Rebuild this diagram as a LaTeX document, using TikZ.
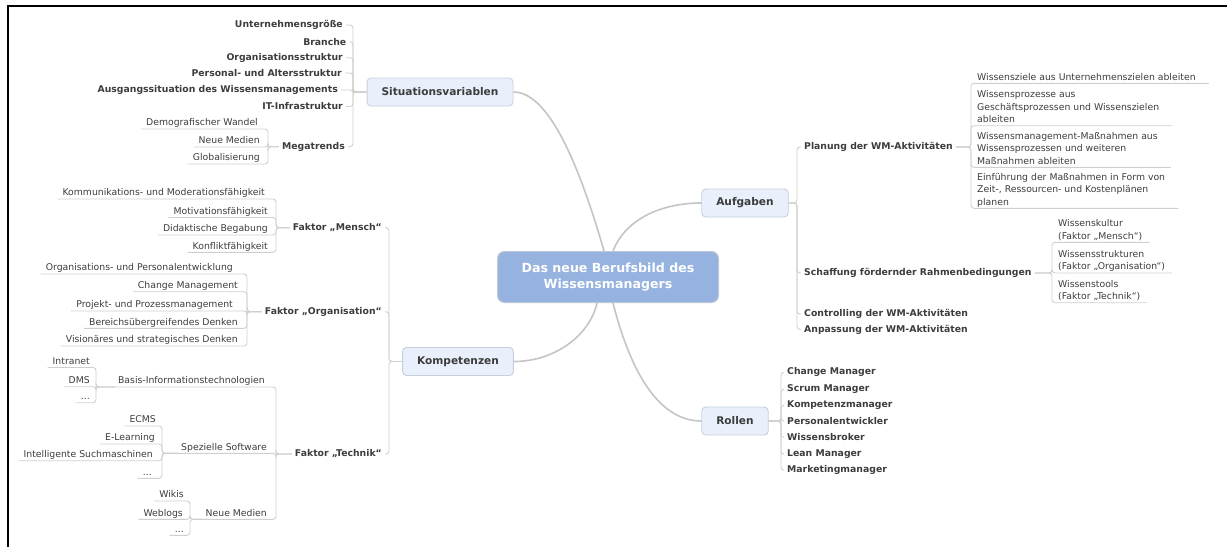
\documentclass[tikz,border=0pt]{standalone}
\usepackage{fontspec}
\setmainfont{DejaVu Sans}
\usetikzlibrary{calc}
\definecolor{txt}{HTML}{3C3C3C}
\definecolor{topicfill}{HTML}{E9F0FB}
\definecolor{topicdraw}{HTML}{C6CFDB}
\definecolor{rootfill}{HTML}{95B3DE}
\definecolor{rootdraw}{HTML}{BCC9DB}
\definecolor{maincurve}{HTML}{C4C4C4}
\definecolor{subline}{HTML}{CFCFCF}
\newcommand\lstr{\rule[-3pt]{0pt}{9pt}}
\begin{document}
\begin{tikzpicture}[x=1pt,y=-1pt,
 root/.style={draw=rootdraw, fill=rootfill, line width=1pt, rounded corners=7pt, text=white,
   font=\bfseries\fontsize{12.6}{16.7}\selectfont, align=center, minimum width=221pt, minimum height=51pt},
 topic/.style={draw=topicdraw, fill=topicfill, rounded corners=4pt, line width=0.9pt,
   font=\bfseries\fontsize{10.6}{13}\selectfont, text=txt, inner xsep=14.5pt, minimum height=28pt},
 sub/.style={font=\bfseries\fontsize{9.3}{12}\selectfont, text=txt, inner xsep=3pt, inner ysep=1pt},
 leaf/.style={font=\fontsize{9.3}{12.3}\selectfont, text=txt, inner xsep=3pt, inner ysep=0pt, align=left,
   execute at begin node=\lstr, execute at end node=\lstr},
 lleaf/.style={leaf, anchor=south east},
 rleaf/.style={leaf, anchor=south west},
 conn/.style={draw=subline, line width=0.9pt, rounded corners=3pt},
 main/.style={draw=maincurve, line width=1.6pt},
]
\useasboundingbox (0,0) rectangle (1227,547);
\draw[line width=2.5pt] (8,547) -- (8,6) -- (1227,6);

% vertical line positions
\coordinate (vS) at (353,0);
\coordinate (vMg) at (268,0);
\coordinate (vK) at (389,0);
\coordinate (vK1) at (276,0);
\coordinate (vK2) at (247,0);
\coordinate (vK3) at (276,0);
\coordinate (vB) at (96,0);
\coordinate (vSp) at (162,0);
\coordinate (vN) at (190,0);
\coordinate (vA) at (797,0);
\coordinate (vP) at (971,0);
\coordinate (vSc) at (1052,0);
\coordinate (vR) at (781,0);

% central and topics
\node[root] (root) at (608,277) {Das neue Berufsbild des\\Wissensmanagers};
\node[topic] (sit) at (440,92) {Situationsvariablen};
\node[topic] (komp) at (458,361.5) {Kompetenzen};
\node[topic] (aufg) at (745,203) {Aufgaben};
\node[topic] (rollen) at (735,421) {Rollen};

\draw[main] (sit.east) .. controls (545,92) and (575,150) .. ($(root.north)+(-4,0)$);
\draw[main] (aufg.west) .. controls (660,203) and (625,220) .. ($(root.north)+(5,0)$);
\draw[main] (komp.east) .. controls (555,361.5) and (590,335) .. ($(root.south)+(-11,0)$);
\draw[main] ($(root.south)+(5,0)$) .. controls (625,350) and (650,421) .. (rollen.west);

% Situationsvariablen
\node[sub, anchor=east] (s1) at (346,25) {Unternehmensgröße};
\node[sub, anchor=east] (s2) at (349.5,41.7) {Branche};
\node[sub, anchor=east] (s3) at (346,57.7) {Organisationsstruktur};
\node[sub, anchor=east] (s4) at (345,73) {Personal- und Altersstruktur};
\node[sub, anchor=east] (s5) at (341,90) {Ausgangssituation des Wissensmanagements};
\node[sub, anchor=east] (s6) at (346,106.5) {IT-Infrastruktur};
\node[sub, anchor=east] (s7) at (348,146.7) {Megatrends};
\foreach \c in {s1,s2,s3,s4,s5,s6,s7}
  \draw[conn] (sit.west) -- (sit.west -| vS) |- (\c.east);

\node[lleaf] (m1) at (261,129) {Demografischer Wandel};
\node[lleaf] (m2) at (263,147) {Neue Medien};
\node[lleaf] (m3) at (263,164) {Globalisierung};
\foreach \c in {m1,m2,m3}
  \draw[conn] (s7.west) -- (s7.west -| vMg) |- ($(\c.south west)+(-2,0)$);

% Kompetenzen
\node[sub, anchor=east] (k1) at (385,227.7) {Faktor „Mensch“};
\node[sub, anchor=east] (k2) at (385,311.7) {Faktor „Organisation“};
\node[sub, anchor=east] (k3) at (385,454) {Faktor „Technik“};
\foreach \c in {k1,k2,k3}
  \draw[conn] (komp.west) -- (komp.west -| vK) |- (\c.east);

\node[lleaf] (km1) at (268,199) {Kommunikations- und Moderationsfähigkeit};
\node[lleaf] (km2) at (271,217.5) {Motivationsfähigkeit};
\node[lleaf] (km3) at (271,235) {Didaktische Begabung};
\node[lleaf] (km4) at (271,252.3) {Konfliktfähigkeit};
\foreach \c in {km1,km2,km3,km4}
  \draw[conn] (k1.west) -- (k1.west -| vK1) |- ($(\c.south west)+(-2,0)$);

\node[lleaf] (ko1) at (236,274) {Organisations- und Personalentwicklung};
\node[lleaf] (ko2) at (241,291.7) {Change Management};
\node[lleaf] (ko3) at (236,311) {Projekt- und Prozessmanagement};
\node[lleaf] (ko4) at (241,328.3) {Bereichsübergreifendes Denken};
\node[lleaf] (ko5) at (241,346) {Visionäres und strategisches Denken};
\foreach \c in {ko1,ko2,ko3,ko4,ko5}
  \draw[conn] (k2.west) -- (k2.west -| vK2) |- ($(\c.south west)+(-2,0)$);

\node[lleaf] (kt1) at (268,387) {Basis-Informationstechnologien};
\node[lleaf] (kt2) at (270,453.3) {Spezielle Software};
\node[lleaf] (kt3) at (270,519.3) {Neue Medien};
\foreach \c in {kt1,kt2,kt3}
  \draw[conn] (k3.west) -- (k3.west -| vK3) |- (\c.south west);

\node[lleaf] (b1) at (93,367.5) {Intranet};
\node[lleaf] (b2) at (93,386.7) {DMS};
\node[lleaf] (b3) at (93,402.7) {...};
\foreach \c in {b1,b2,b3}
  \draw[conn] (kt1.south west) -- (kt1.south west -| vB) |- ($(\c.south west)+(-2,0)$);

\node[lleaf] (p1) at (159,426) {ECMS};
\node[lleaf] (p2) at (158,444) {E-Learning};
\node[lleaf] (p3) at (156,460.7) {Intelligente Suchmaschinen};
\node[lleaf] (p4) at (155,478.3) {...};
\foreach \c in {p1,p2,p3,p4}
  \draw[conn] (kt2.south west) -- (kt2.south west -| vSp) |- ($(\c.south west)+(-2,0)$);

\node[lleaf] (n1) at (187,501) {Wikis};
\node[lleaf] (n2) at (186,519.3) {Weblogs};
\node[lleaf] (n3) at (187,535.3) {...};
\foreach \c in {n1,n2,n3}
  \draw[conn] (kt3.south west) -- (kt3.south west -| vN) |- ($(\c.south west)+(-2,0)$);

% Aufgaben
\node[sub, anchor=west] (a1) at (801,147) {Planung der WM-Aktivitäten};
\node[sub, anchor=west] (a2) at (801,273) {Schaffung fördernder Rahmenbedingungen};
\node[sub, anchor=west] (a3) at (801,314) {Controlling der WM-Aktivitäten};
\node[sub, anchor=west] (a4) at (801,329.5) {Anpassung der WM-Aktivitäten};
\foreach \c in {a1,a2,a3,a4}
  \draw[conn] (aufg.east) -- (aufg.east -| vA) |- (\c.west);

\node[rleaf] (pl1) at (974,83.3) {Wissensziele aus Unternehmenszielen ableiten};
\node[rleaf] (pl2) at (974,125.7) {Wissensprozesse aus\\Geschäftsprozessen und Wissenszielen\\ableiten};
\node[rleaf] (pl3) at (974,167.3) {Wissensmanagement-Maßnahmen aus\\Wissensprozessen und weiteren\\Maßnahmen ableiten};
\node[rleaf] (pl4) at (974,208.3) {Einführung der Maßnahmen in Form von\\Zeit-, Ressourcen- und Kostenplänen\\planen};
\foreach \c in {pl1,pl2,pl3,pl4}
  \draw[conn] (a1.east) -- (a1.east -| vP) |- ($(\c.south east)+(10,0)$);

\node[rleaf] (sc1) at (1055,242.3) {Wissenskultur\\(Faktor „Mensch“)};
\node[rleaf] (sc2) at (1055,273) {Wissensstrukturen\\(Faktor „Organisation“)};
\node[rleaf] (sc3) at (1055,302.7) {Wissenstools\\(Faktor „Technik“)};
\foreach \c in {sc1,sc2,sc3}
  \draw[conn] (a2.east) -- (a2.east -| vSc) |- ($(\c.south east)+(4,0)$);

% Rollen
\node[sub, anchor=west] (r1) at (784,372.3) {Change Manager};
\node[sub, anchor=west] (r2) at (784,389.3) {Scrum Manager};
\node[sub, anchor=west] (r3) at (784,405.3) {Kompetenzmanager};
\node[sub, anchor=west] (r4) at (784,421.3) {Personalentwickler};
\node[sub, anchor=west] (r5) at (784,437.3) {Wissensbroker};
\node[sub, anchor=west] (r6) at (784,454.3) {Lean Manager};
\node[sub, anchor=west] (r7) at (784,470.3) {Marketingmanager};
\foreach \c in {r1,r2,r3,r4,r5,r6,r7}
  \draw[conn] (rollen.east) -- (rollen.east -| vR) |- (\c.west);
\end{tikzpicture}
\end{document}
